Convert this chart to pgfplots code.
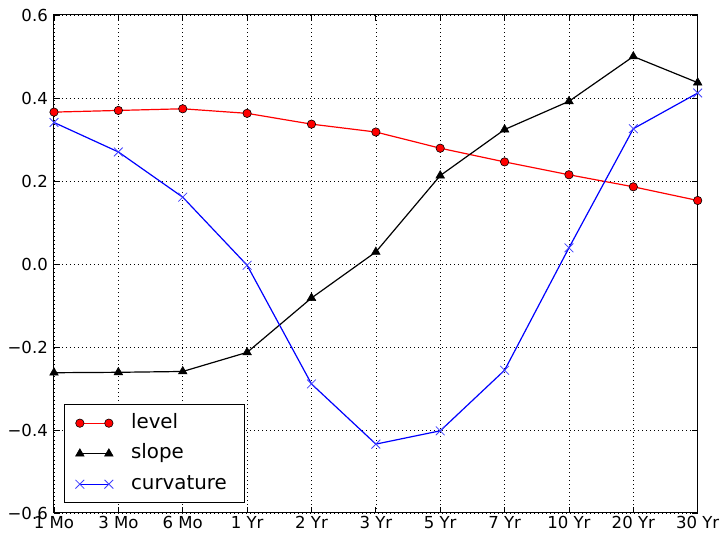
\documentclass[border=0pt]{standalone}
\usepackage{fontspec}
\setmainfont{DejaVu Sans}
\usepackage{pgfplots}
\pgfplotsset{compat=1.18}
\begin{document}
\begin{tikzpicture}
\begin{axis}[
  scale only axis, width=643.7bp, height=498bp,
  xmin=0, xmax=10, ymin=-0.6, ymax=0.6,
  xtick={0,1,2,3,4,5,6,7,8,9,10},
  xticklabels={1 Mo,3 Mo,6 Mo,1 Yr,2 Yr,3 Yr,5 Yr,7 Yr,10 Yr,20 Yr,30 Yr},
  ytick={-0.6,-0.4,-0.2,0,0.2,0.4,0.6},
  yticklabels={−0.6,−0.4,−0.2,0.0,0.2,0.4,0.6},
  tick align=inside, major tick length=6bp,
  tick style={black, line width=0.8bp},
  grid=major, grid style={black, line width=0.6bp, dash pattern=on 1bp off 3bp},
  axis line style={line width=1bp},
  tick label style={font=\fontsize{16.6}{20}\selectfont},
  xticklabel style={inner sep=3.5bp},
  yticklabel style={inner sep=6bp},
  legend style={at={(0.0155,0.0195)}, anchor=south west, draw=black, line width=1bp,
    inner xsep=11bp, inner ysep=6.6bp, row sep=6.5bp, column sep=11bp,
    font=\fontsize{19.9}{24}\selectfont,
    nodes={inner xsep=6.8bp, inner ysep=2bp, text height=15bp, text depth=5bp}},
  legend cell align=left,
  legend image code/.code={\draw[#1] plot coordinates {(0bp,0bp) (29bp,0bp)};},
]
\addplot[red, line width=1.2bp, mark=*, mark size=4.2bp, mark options={fill=red, draw=black, line width=0.6bp}]
coordinates {(0,0.366) (1,0.370) (2,0.374) (3,0.363) (4,0.337) (5,0.318) (6,0.279) (7,0.246) (8,0.215) (9,0.186) (10,0.153)};
\addlegendentry{level}
\addplot[black, line width=1.2bp, mark=triangle*, mark size=5bp, mark options={fill=black, draw=black, line width=0.5bp}]
coordinates {(0,-0.262) (1,-0.261) (2,-0.259) (3,-0.213) (4,-0.082) (5,0.029) (6,0.213) (7,0.324) (8,0.392) (9,0.500) (10,0.437)};
\addlegendentry{slope}
\addplot[blue, line width=1.2bp, mark=x, mark size=6.2bp, mark options={draw=blue!75, line width=0.8bp}]
coordinates {(0,0.341) (1,0.270) (2,0.161) (3,-0.003) (4,-0.289) (5,-0.434) (6,-0.402) (7,-0.256) (8,0.039) (9,0.326) (10,0.412)};
\addlegendentry{curvature}
\end{axis}
\pgfresetboundingbox
\path[use as bounding box] ([shift={(-54bp,-21bp)}]current axis.south west) rectangle ([shift={(24.3bp,15bp)}]current axis.north east);
\end{tikzpicture}
\end{document}
